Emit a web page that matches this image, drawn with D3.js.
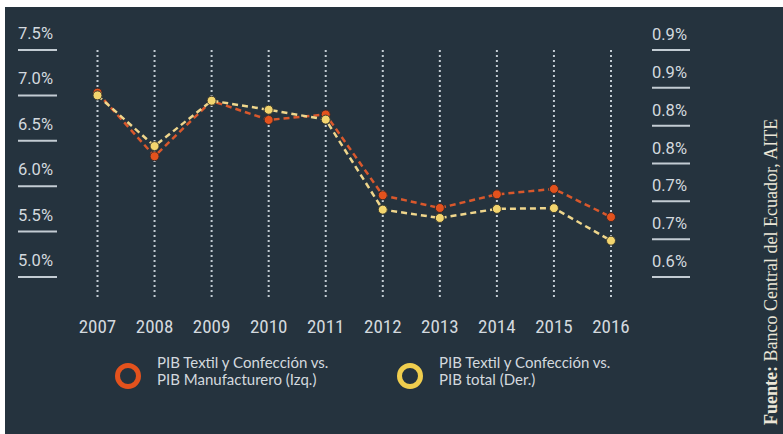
<!DOCTYPE html>
<html>
<head>
<meta charset="utf-8">
<script src="https://cdn.jsdelivr.net/npm/d3@7"></script>
<style>
  body { margin: 0; background: #ffffff; }
  svg { display: block; }
</style>
</head>
<body>
<div id="plot"></div>
<script>
var years = [2007, 2008, 2009, 2010, 2011, 2012, 2013, 2014, 2015, 2016];
// PIB Textil y Confeccion vs PIB Manufacturero (left axis, %)
var manuf = [7.03, 6.33, 6.94, 6.73, 6.79, 5.90, 5.76, 5.91, 5.97, 5.66];
// PIB Textil y Confeccion vs PIB total (right axis, %)
var total = [0.860, 0.793, 0.853, 0.841, 0.828, 0.709, 0.698, 0.710, 0.711, 0.668];

var leftTicks = [5.0, 5.5, 6.0, 6.5, 7.0, 7.5];
var rightTicks = [0.62, 0.67, 0.72, 0.77, 0.82, 0.87, 0.92];
var rightTickLabels = ["0.6%", "0.7%", "0.7%", "0.8%", "0.8%", "0.9%", "0.9%"];

var legendLabels = [
    ["PIB Textil y Confección vs.", "PIB Manufacturero (Izq.)"],
    ["PIB Textil y Confección vs.", "PIB total (Der.)"]
];

var width = 783,
    height = 434,
    bg = "#25333e",
    orange = "#e3521d",
    yellow = "#f3d56e",
    textCol = "#d3d9de";

var svg = d3.select("#plot").append("svg")
    .attr("width", width)
    .attr("height", height);

// dark panel
svg.append("rect")
    .attr("x", 5)
    .attr("y", 7)
    .attr("width", width - 5)
    .attr("height", height - 7)
    .attr("fill", bg);

var xScale = d3.scalePoint()
    .domain(years)
    .range([97.5, 611]);

var yLeft = d3.scaleLinear()
    .domain([5.0, 7.5])
    .range([277, 50]);

var yRight = d3.scaleLinear()
    .domain([0.62, 0.92])
    .range([277, 50]);

// vertical dotted year lines
svg.append("g")
    .selectAll("line")
    .data(years).enter()
    .append("line")
    .attr("x1", function(d) { return xScale(d); })
    .attr("x2", function(d) { return xScale(d); })
    .attr("y1", 50)
    .attr("y2", 300)
    .attr("stroke", "#c3ccd3")
    .attr("stroke-width", 2)
    .attr("stroke-dasharray", "2,3");

// year labels
svg.append("g")
    .selectAll("text")
    .data(years).enter()
    .append("text")
    .attr("x", function(d) { return xScale(d); })
    .attr("y", 333)
    .attr("text-anchor", "middle")
    .style("font-family", "'Liberation Sans Narrow', 'Roboto Condensed', Roboto, sans-serif")
    .style("font-size", "19px")
    .attr("fill", textCol)
    .text(function(d) { return d; });

// left axis ticks (label above an underline)
var lt = svg.append("g")
    .selectAll("g")
    .data(leftTicks).enter()
    .append("g")
    .attr("transform", function(d) { return "translate(18," + yLeft(d) + ")"; });

lt.append("line")
    .attr("x1", 0).attr("x2", 39)
    .attr("stroke", "#c3ccd3")
    .attr("stroke-width", 2);

lt.append("text")
    .attr("y", -11)
    .style("font-family", "Roboto, sans-serif")
    .style("font-size", "16.5px")
    .attr("fill", textCol)
    .text(function(d) { return d.toFixed(1) + "%"; });

// right axis ticks
var rt = svg.append("g")
    .selectAll("g")
    .data(rightTicks).enter()
    .append("g")
    .attr("transform", function(d) { return "translate(652," + yRight(d) + ")"; });

rt.append("line")
    .attr("x1", 0).attr("x2", 38)
    .attr("stroke", "#c3ccd3")
    .attr("stroke-width", 2);

rt.append("text")
    .attr("y", -10)
    .style("font-family", "Roboto, sans-serif")
    .style("font-size", "16.5px")
    .attr("fill", textCol)
    .text(function(d, i) { return rightTickLabels[i]; });

// lines
var lineL = d3.line()
    .x(function(d, i) { return xScale(years[i]); })
    .y(function(d) { return yLeft(d); });

var lineR = d3.line()
    .x(function(d, i) { return xScale(years[i]); })
    .y(function(d) { return yRight(d); });

svg.append("path")
    .datum(manuf)
    .attr("d", lineL)
    .attr("fill", "none")
    .attr("stroke", "#d9582c")
    .attr("stroke-width", 2.5)
    .attr("stroke-dasharray", "6,4");

svg.append("g")
    .selectAll("circle")
    .data(manuf).enter()
    .append("circle")
    .attr("cx", function(d, i) { return xScale(years[i]); })
    .attr("cy", function(d) { return yLeft(d); })
    .attr("r", 4.5)
    .attr("fill", orange)
    .attr("stroke", "#3b2a2a")
    .attr("stroke-width", 1);

svg.append("path")
    .datum(total)
    .attr("d", lineR)
    .attr("fill", "none")
    .attr("stroke", "#efd68c")
    .attr("stroke-width", 2.5)
    .attr("stroke-dasharray", "6,4");

svg.append("g")
    .selectAll("circle")
    .data(total).enter()
    .append("circle")
    .attr("cx", function(d, i) { return xScale(years[i]); })
    .attr("cy", function(d) { return yRight(d); })
    .attr("r", 4.5)
    .attr("fill", yellow)
    .attr("stroke", "#3a3a30")
    .attr("stroke-width", 1);

// legend
var legX = [128, 410];
var legCol = [orange, "#f0ce4e"];
var leg = svg.append("g")
    .selectAll("g")
    .data(legendLabels).enter()
    .append("g")
    .attr("transform", function(d, i) { return "translate(" + legX[i] + ",376)"; });

leg.append("circle")
    .attr("r", 10.5)
    .attr("fill", "none")
    .attr("stroke", function(d, i) { return legCol[i]; })
    .attr("stroke-width", 5);

leg.append("text")
    .attr("x", 29)
    .attr("y", -8)
    .style("font-family", "Lato, sans-serif")
    .style("font-size", "15px")
    .attr("fill", textCol)
    .selectAll("tspan")
    .data(function(d) { return d; }).enter()
    .append("tspan")
    .attr("x", 29)
    .attr("dy", function(d, i) { return i ? 17 : 0; })
    .text(function(d) { return d; });

// source, rotated
var src = svg.append("text")
    .attr("transform", "translate(777,425) rotate(-90)")
    .style("font-family", "'Liberation Serif', 'DejaVu Serif', serif")
    .style("font-size", "18px")
    .attr("fill", "#ebe6d8");

src.append("tspan")
    .style("font-weight", "bold")
    .text("Fuente:");

src.append("tspan")
    .text(" Banco Central del Ecuador, AITE");
</script>
</body>
</html>
